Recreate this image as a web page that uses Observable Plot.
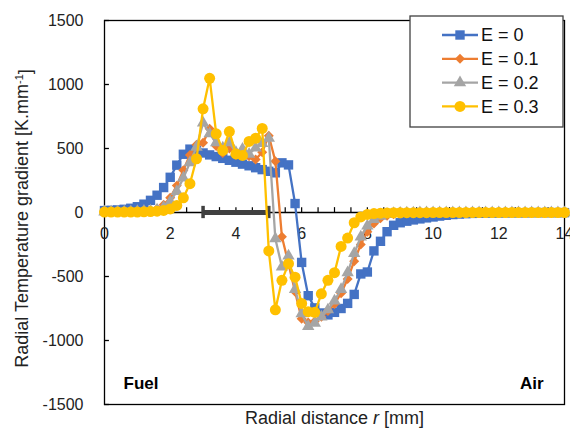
<!DOCTYPE html>
<html><head><meta charset="utf-8">
<script src="https://cdn.jsdelivr.net/npm/d3@7"></script>
<script src="https://cdn.jsdelivr.net/npm/@observablehq/plot@0.6"></script>
<style>body{margin:0;background:#fff;} svg{display:block}</style>
</head><body><div id="chart"></div>
<script>
// radial positions [mm]
const r = [0,0.2,0.4,0.6,0.8,1,1.2,1.4,1.6,1.8,2,2.2,2.4,2.6,2.8,3,3.2,3.4,3.6,3.8,4,4.2,4.4,4.6,4.8,5,5.2,5.4,5.6,5.8,6,6.2,6.4,6.6,6.8,7,7.2,7.4,7.6,7.8,8,8.2,8.4,8.6,8.8,9,9.2,9.4,9.6,9.8,10,10.2,10.4,10.6,10.8,11,11.2,11.4,11.6,11.8,12,12.2,12.4,12.6,12.8,13,13.2,13.4,13.6,13.8,14];
const seriesNames = ["E = 0","E = 0.1","E = 0.2","E = 0.3"];
const e0 = [15,17,20,25,33,45,65,95,135,195,275,370,455,495,485,465,450,437,423,408,393,378,365,350,335,322,310,388,372,70,-390,-650,-745,-785,-800,-780,-750,-710,-640,-480,-465,-300,-225,-150,-100,-80,-68,-58,-50,-42,-35,-28,-22,-16,-12,-9,-7,-5,-4,-3,-3,-2,-2,-2,-2,-1,-1,-1,-1,-1,-1];
const e1 = [5,5,6,7,8,10,13,18,30,60,115,210,330,450,530,545,655,520,465,500,450,475,440,415,470,600,400,-190,-400,-620,-830,-860,-850,-815,-770,-715,-630,-520,-380,-250,-150,-85,-45,-25,-14,-8,-5,-4,-3,-2,-2,-2,-1,-1,-1,-1,-1,-1,-1,-1,-1,-1,-1,-1,-1,-1,-1,-1,-1,-1,-1];
const e2 = [4,4,5,5,6,8,10,13,20,40,85,165,270,390,510,700,615,545,505,545,470,495,455,505,540,580,-205,-425,-340,-600,-790,-890,-865,-815,-760,-690,-600,-470,-320,-190,-105,-55,-28,-15,-8,-5,-4,-3,-2,-2,-2,-1,-1,-1,-1,-1,-1,-1,-1,-1,-1,-1,-1,-1,-1,-1,-1,-1,-1,-1,-1];
const e3 = [3,3,3,3,4,4,5,7,10,16,28,55,115,225,420,810,1048,615,485,632,458,446,555,580,657,-300,-760,-530,-400,-505,-710,-775,-780,-635,-530,-470,-265,-200,-80,-35,-15,-8,-5,-3,-2,-2,-1,-1,-1,-1,0,0,0,0,0,0,0,0,0,0,0,0,0,0,0,0,0,0,0,0,0];
const values = [e0,e1,e2,e3];
const xTicks = [0,2,4,6,8,10,12,14];
const yTicks = [-1500,-1000,-500,0,500,1000,1500];
const barRange = [3,5]; // thick bar on the axis
const colors = ["#4472C4","#ED7D31","#A5A5A5","#FFC000"];
const symbols = ["square","diamond2","triangle","circle"];
const dotR = [5.3,4.5,4.6,5.5];
const xTitle = "Radial distance r [mm]";
const yTitle = "Radial Temperature gradient [K.mm-1]";

const seriesData = values.map((vals,k)=>vals.map((v,i)=>({r:r[i], v, s:seriesNames[k]})));

const font = "Liberation Sans, Arial, sans-serif";
const marks = [
  Plot.frame({stroke:"#000", strokeWidth:1.3}),
  Plot.axisY(yTicks, {tickSize:0, tickPadding:21, fontSize:16, tickFormat:d=>String(d), label:null, fill:"#222"}),
  Plot.ruleY(yTicks, {x1:0, x2:0.15, stroke:"#000", strokeWidth:1.3}),
  Plot.ruleY([0], {stroke:"#000", strokeWidth:1.3}),
  Plot.ruleX(d3.range(0.5,14,0.5), {y1:0, y2:38, stroke:"#000", strokeWidth:1.2}),
  Plot.text(xTicks, {x:d=>d, y:0, text:d=>String(d), dy:21, fontSize:16, fill:"#222"}),
  Plot.ruleY([0], {x1:barRange[0], x2:barRange[1], stroke:"#404040", strokeWidth:5}),
  Plot.ruleX(barRange, {y1:-48, y2:48, stroke:"#404040", strokeWidth:3.5}),
];
seriesData.forEach((d,k)=>{
  marks.push(Plot.line(d, {x:"r", y:"v", stroke:colors[k], strokeWidth:2.3}));
  marks.push(Plot.dot(d, {x:"r", y:"v", symbol:symbols[k], fill:colors[k], r:dotR[k]}));
});
marks.push(
  Plot.text(["Fuel"], {text:d=>d, frameAnchor:"bottom-left", textAnchor:"start", lineAnchor:"middle", dx:19, dy:-21, fontSize:17, fontWeight:"bold", fill:"#000"}),
  Plot.text(["Air"], {text:d=>d, frameAnchor:"bottom-right", textAnchor:"end", lineAnchor:"middle", dx:-21, dy:-21, fontSize:17, fontWeight:"bold", fill:"#000"}),
  Plot.text([xTitle], {text:d=>d, frameAnchor:"bottom", textAnchor:"middle", lineAnchor:"middle", dy:14, fontSize:18, fill:"#222"}),
  Plot.text([yTitle], {text:d=>d, frameAnchor:"left", textAnchor:"middle", lineAnchor:"middle", rotate:-90, dx:-82, dy:6, fontSize:18, fill:"#222"})
);

const chart = Plot.plot({
  width:570, height:430,
  marginLeft:104, marginRight:6, marginTop:20, marginBottom:26,
  x:{domain:[0,14], axis:null},
  y:{domain:[-1500,1500]},
  style:{fontFamily:font, background:"white", overflow:"visible"},
  marks
});
document.getElementById("chart").append(chart);

const svg = d3.select(chart);
svg.selectAll("text").filter(function(){return this.textContent === xTitle;}).each(function(){
  const t = d3.select(this); t.text(null);
  t.append("tspan").text("Radial distance ");
  t.append("tspan").attr("font-style","italic").text("r");
  t.append("tspan").text(" [mm]");
});
svg.selectAll("text").filter(function(){return this.textContent === yTitle;}).each(function(){
  const t = d3.select(this); t.text(null);
  t.append("tspan").text("Radial Temperature gradient [K.mm");
  t.append("tspan").attr("dy","-0.45em").attr("font-size","11px").text("-1");
  t.append("tspan").attr("dy","0.45em").text("]");
});

// legend
const lg = svg.append("g").attr("font-family", font).attr("text-anchor","start");
lg.append("rect").attr("x",410).attr("y",16).attr("width",153).attr("height",111)
  .attr("fill","white").attr("stroke","#404040").attr("stroke-width",1.3);
const sym = {square:d3.symbolSquare, diamond2:d3.symbolDiamond2, triangle:d3.symbolTriangle, circle:d3.symbolCircle};
seriesNames.forEach((name,k)=>{
  const y = 35 + k*23.8;
  lg.append("line").attr("x1",442).attr("x2",478).attr("y1",y).attr("y2",y).attr("stroke",colors[k]).attr("stroke-width",2.3);
  lg.append("path").attr("transform",`translate(460,${y})`).attr("d", d3.symbol(sym[symbols[k]], Math.PI*dotR[k]*dotR[k])()).attr("fill",colors[k]);
  lg.append("text").attr("x",481).attr("y",y).attr("dy","0.35em").attr("text-anchor","start").attr("font-size",18).attr("fill","#111").text(name);
});
</script>
</body></html>
